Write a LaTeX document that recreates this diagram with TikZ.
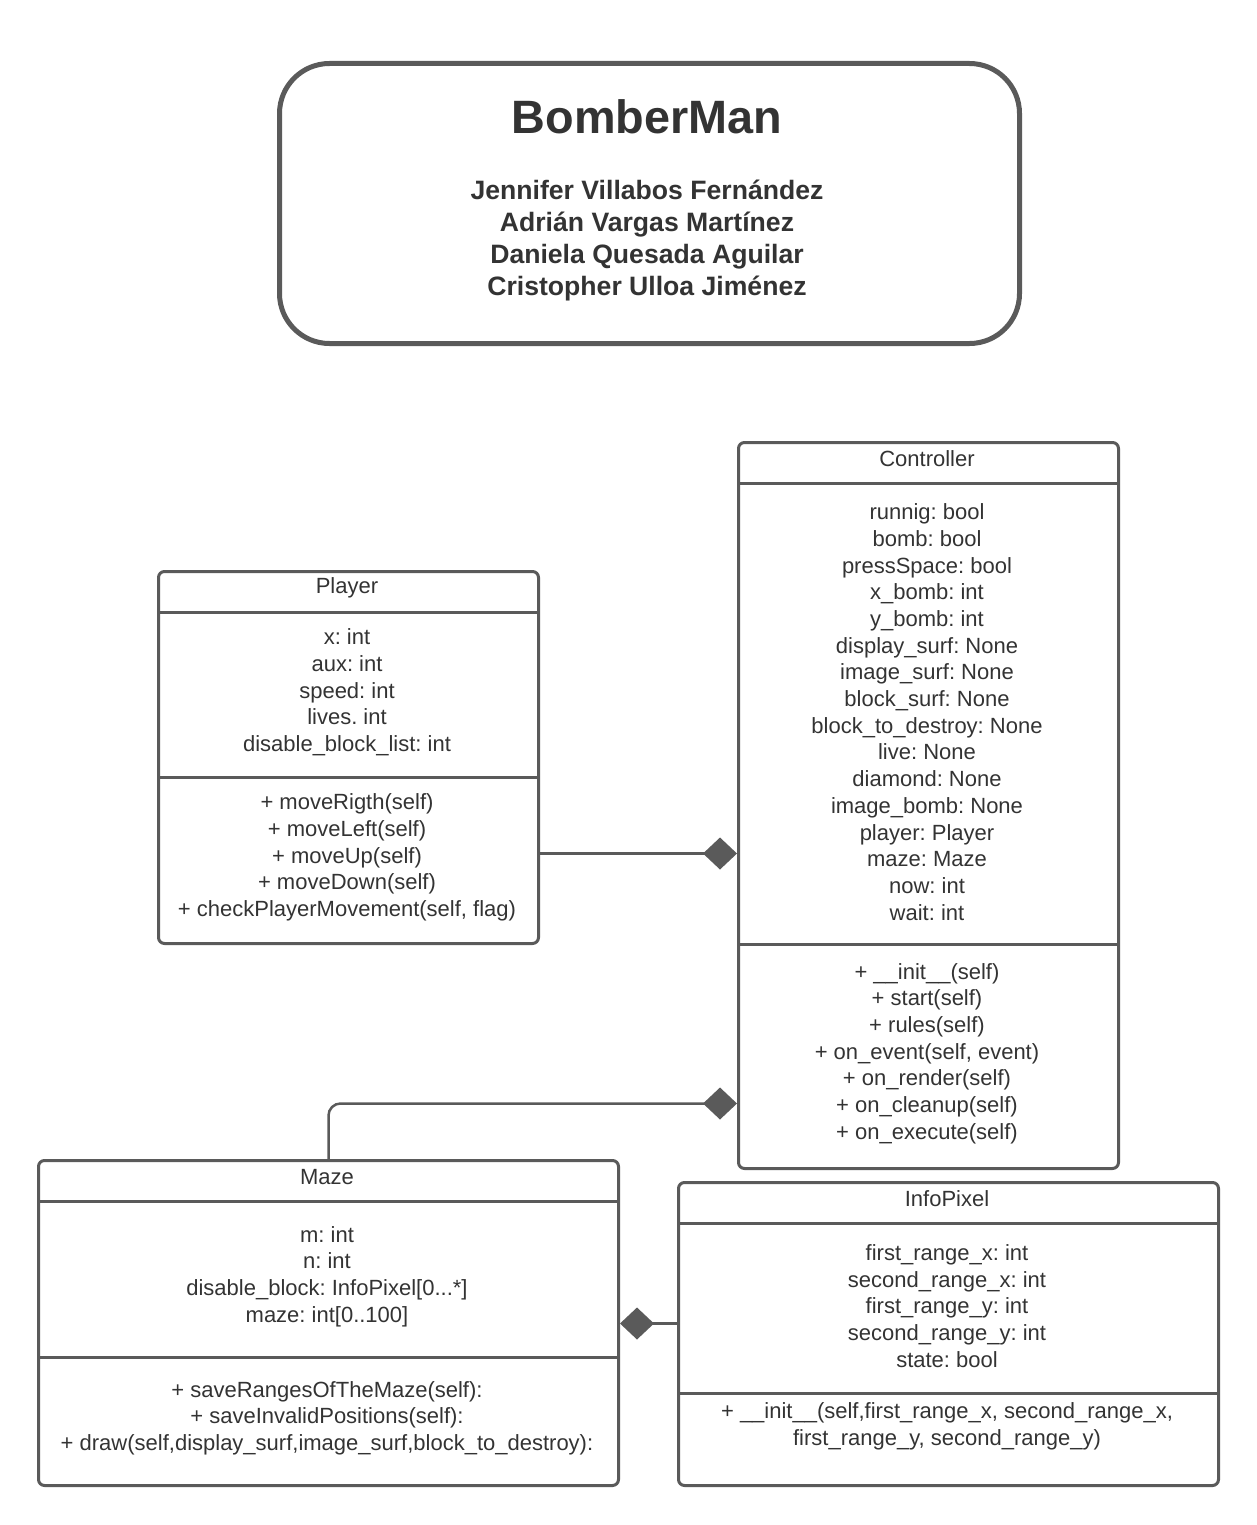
\documentclass[tikz,border=0pt]{standalone}
\usepackage{fontspec}
\setmainfont{Liberation Sans}
\usetikzlibrary{arrows.meta}
\usetikzlibrary{positioning}
\usetikzlibrary{calc}
\frenchspacing
\definecolor{umlline}{HTML}{5A5A5A}
\definecolor{umltext}{HTML}{333333}
\tikzstyle{every node}+=[inner sep=0pt, text=umltext]
\tikzstyle{classbox} = [rectangle, draw=umlline, line width=1.5pt, rounded corners=3pt, anchor=north west]
\tikzstyle{titlebox} = [rectangle, draw=umlline, line width=2.5pt, rounded corners=25pt, anchor=north west]
\tikzstyle{members} = [align=center, font=\fontsize{11}{13.35}\selectfont]
\tikzstyle{sep} = [draw=umlline, line width=1.5pt]
\tikzstyle{comp} = [draw=umlline, line width=1.25pt, -{Diamond[length=17pt, width=16pt]}]

\begin{document}
\begin{tikzpicture}[x=0.5pt, y=-0.5pt]
            \useasboundingbox (0,0) rectangle (1257,1525);
            % Title
            \node [titlebox, minimum width=370pt, minimum height=140pt] (titlebox) at (277,61) {};
            \node [font=\fontsize{23.4}{28}\selectfont\bfseries] (game) at (647,117) {BomberMan};
            \node [align=center, font=\fontsize{13.3}{16}\selectfont\bfseries] (authors) at (647,241) {Jennifer Villabos Fernández\\Adrián Vargas Martínez\\Daniela Quesada Aguilar\\Cristopher Ulloa Jiménez};
            % Place classes
            \node [classbox, minimum width=190pt, minimum height=186pt] (player) at (157,570) {};
            \node [classbox, minimum width=190pt, minimum height=363pt] (controller) at (737,441) {};
            \node [classbox, minimum width=290pt, minimum height=162.5pt] (maze) at (37,1159) {};
            \node [classbox, minimum width=270pt, minimum height=151.5pt] (infopixel) at (677,1181) {};
            % Compartments
            \draw [sep] ($(player.north west)+(0,42)$) -- ($(player.north east)+(0,42)$);
            \draw [sep] ($(player.north west)+(0,207)$) -- ($(player.north east)+(0,207)$);
            \draw [sep] ($(controller.north west)+(0,42)$) -- ($(controller.north east)+(0,42)$);
            \draw [sep] ($(controller.north west)+(0,503)$) -- ($(controller.north east)+(0,503)$);
            \draw [sep] ($(maze.north west)+(0,42)$) -- ($(maze.north east)+(0,42)$);
            \draw [sep] ($(maze.north west)+(0,198)$) -- ($(maze.north east)+(0,198)$);
            \draw [sep] ($(infopixel.north west)+(0,42)$) -- ($(infopixel.north east)+(0,42)$);
            \draw [sep] ($(infopixel.north west)+(0,212)$) -- ($(infopixel.north east)+(0,212)$);
            % Player
            \node [members] (playername) at (347,588) {Player};
            \node [members] (playerattr) at (347,692.5) {x: int\\aux: int\\speed: int\\lives. int\\disable\_block\_list: int};
            \node [members] (playerops) at (347,857.5) {+ moveRigth(self)\\+ moveLeft(self)\\+ moveUp(self)\\+ moveDown(self)\\+ checkPlayerMovement(self, flag)};
            % Controller
            \node [members] (controllername) at (927,459) {Controller};
            \node [members] (controllerattr) at (927,712) {runnig: bool\\bomb: bool\\pressSpace: bool\\x\_bomb: int\\y\_bomb: int\\display\_surf: None\\image\_surf: None\\block\_surf: None\\block\_to\_destroy: None\\live: None\\diamond: None\\image\_bomb: None\\player: Player\\maze: Maze\\now: int\\wait: int};
            \node [members] (controllerops) at (927,1053.5) {+ \_\_init\_\_(self)\\+ start(self)\\+ rules(self)\\+ on\_event(self, event)\\+ on\_render(self)\\+ on\_cleanup(self)\\+ on\_execute(self)};
            % Maze
            \node [members] (mazename) at (327,1177) {Maze};
            \node [members] (mazeattr) at (327,1276.5) {m: int\\n: int\\disable\_block: InfoPixel[0...*]\\maze: int[0..100]};
            \node [members] (mazeops) at (327,1418) {+ saveRangesOfTheMaze(self):\\+ saveInvalidPositions(self):\\+ draw(self,display\_surf,image\_surf,block\_to\_destroy):};
            % InfoPixel
            \node [members] (infopixelname) at (947,1199) {InfoPixel};
            \node [members] (infopixelattr) at (947,1306) {first\_range\_x: int\\second\_range\_x: int\\first\_range\_y: int\\second\_range\_y: int\\state: bool};
            \node [members] (infopixelops) at (947,1426.5) {+ \_\_init\_\_(self,first\_range\_x, second\_range\_x,\\first\_range\_y, second\_range\_y)};
            % Draw edges
            \coordinate (pa) at ($(player.east)+(0,96)$);
            \coordinate (ma) at ($(controller.west)+(0,298)$);
            \coordinate (ia) at ($(infopixel.west)+(0,-10.5)$);
            \draw [comp] (pa) -- (pa -| controller.west);
            \draw [comp, rounded corners=6pt] (maze.north) |- (ma);
            \draw [comp] (ia) -- (ia -| maze.east);
\end{tikzpicture}
\end{document}
